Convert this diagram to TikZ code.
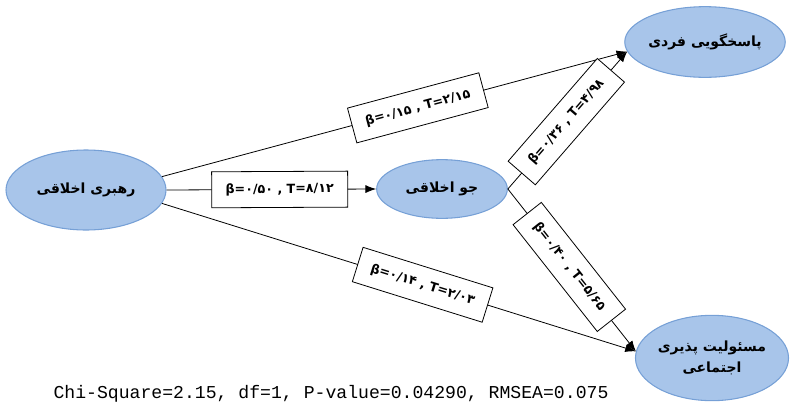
\documentclass[tikz,border=0pt]{standalone}
\usepackage{fontspec}
\usepackage{tikz}
\usetikzlibrary{shapes.geometric, arrows.meta}
\TeXXeTstate=1
\newfontfamily\arabicfont[Script=Arabic]{DejaVu Sans}
\newfontfamily\labelfont{DejaVu Sans}
\newfontfamily\statfont{Liberation Mono}
\definecolor{ovalfill}{RGB}{168,197,234}
\definecolor{ovaldraw}{RGB}{118,160,214}

\begin{document}
\begin{tikzpicture}[x=0.75pt, y=-0.75pt,
    oval/.style={ellipse, draw=ovaldraw, fill=ovalfill, line width=0.8pt, inner sep=0pt,
        font=\arabicfont\bfseries\fontsize{10.5}{16}\selectfont, align=center},
    coef/.style={draw, fill=white, sloped, line width=0.6pt, minimum width=102pt, minimum height=27pt,
        font=\labelfont\bfseries\fontsize{9.5}{11}\selectfont},
    link/.style={-{Latex[length=8pt,width=6pt]}, line width=0.6pt}]
    \useasboundingbox (0,0) rectangle (794,408);

    % Variables
    \node[oval, minimum width=120pt, minimum height=60pt] (lead) at (86,190) {\beginR رهبری اخلاقی\endR};
    \node[oval, minimum width=98pt, minimum height=44pt] (clim) at (442,189) {\beginR جو اخلاقی\endR};
    \node[oval, minimum width=116pt, minimum height=53pt] (resp) at (705,42) {\beginR پاسخگویی فردی\endR};
    \node[oval, minimum width=112pt, minimum height=64pt] (soc) at (712,358) {\beginR مسئولیت پذیری\endR\\ \beginR اجتماعی\endR};

    % Paths with coefficients
    \draw[link] (lead.10) -- node[coef, pos=0.55] {\beginL β=۰/۱۵ , T=۲/۱۵\endL} (resp.187);
    \draw[link] (lead.east) -- node[coef, pos=0.54] {\beginL β=۰/۵۰ , T=۸/۱۲\endL} (clim.west);
    \draw[link] (lead.-10) -- node[coef, pos=0.55] {\beginL β=۰/۱۴ , T=۲/۰۳\endL} (soc.175);
    \draw[link] (clim.east) -- node[coef, pos=0.49] {\beginL β=۰/۳۶ , T=۴/۹۸\endL} (resp.187);
    \draw[link] (clim.east) -- node[coef, pos=0.48] {\beginL β=۰/۴۰ , T=۵/۶۵\endL} (soc.175);

    % Fit indices
    \node[font=\statfont\fontsize{13.6}{16}\selectfont] (fit) at (331,394) {Chi-Square=2.15, df=1, P-value=0.04290, RMSEA=0.075};
\end{tikzpicture}
\end{document}
